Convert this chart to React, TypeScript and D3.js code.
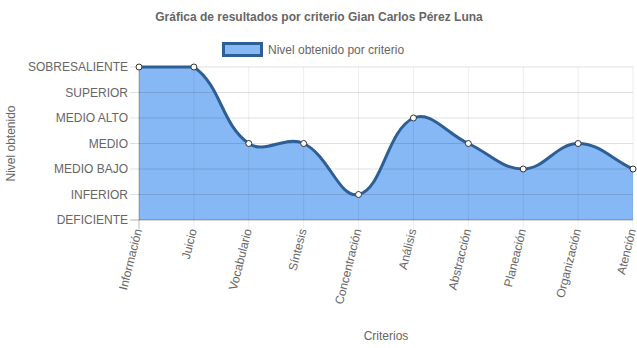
import React from "react";
import * as d3 from "d3";

const categories = ["Información", "Juicio", "Vocabulario", "Síntesis", "Concentración", "Análisis", "Abstracción", "Planeación", "Organización", "Atención"];
const levels = ["DEFICIENTE", "INFERIOR", "MEDIO BAJO", "MEDIO", "MEDIO ALTO", "SUPERIOR", "SOBRESALIENTE"];
const values = [6, 6, 3, 3, 1, 4, 3, 2, 3, 2];

const W = 637, H = 348;
const left = 139, right = 633, top = 67, bottom = 220;
const FONT = "Liberation Sans, Arial, Helvetica, sans-serif";
const GREY = "#666";

function chartSpline(pts: [number, number][], tension: number, minY: number, maxY: number, minX: number, maxX: number) {
  const n = pts.length;
  const cps: { p: [number, number]; n: [number, number] }[] = [];
  for (let i = 0; i < n; i++) {
    const prev = pts[Math.max(0, i - 1)];
    const cur = pts[i];
    const next = pts[Math.min(n - 1, i + 1)];
    const d01 = Math.hypot(cur[0] - prev[0], cur[1] - prev[1]);
    const d12 = Math.hypot(next[0] - cur[0], next[1] - cur[1]);
    let s01 = d01 / (d01 + d12);
    let s12 = d12 / (d01 + d12);
    if (isNaN(s01)) s01 = 0;
    if (isNaN(s12)) s12 = 0;
    const fa = tension * s01, fb = tension * s12;
    const cap = (v: number, a: number, b: number) => Math.max(a, Math.min(b, v));
    cps.push({
      p: [cap(cur[0] - fa * (next[0] - prev[0]), minX, maxX), cap(cur[1] - fa * (next[1] - prev[1]), minY, maxY)],
      n: [cap(cur[0] + fb * (next[0] - prev[0]), minX, maxX), cap(cur[1] + fb * (next[1] - prev[1]), minY, maxY)],
    });
  }
  const path = d3.path();
  path.moveTo(pts[0][0], pts[0][1]);
  for (let i = 1; i < n; i++) {
    path.bezierCurveTo(cps[i - 1].n[0], cps[i - 1].n[1], cps[i].p[0], cps[i].p[1], pts[i][0], pts[i][1]);
  }
  return path.toString();
}

export default function App() {
  const x = d3.scalePoint<string>().domain(categories).range([left, right]);
  const y = d3.scaleLinear().domain([0, levels.length - 1]).range([bottom, top]);
  const pts: [number, number][] = values.map((v, i) => [x(categories[i])!, y(v)]);
  const line = chartSpline(pts, 0.4, top, bottom, left, right);
  const area = line + `L${pts[pts.length - 1][0]},${bottom}L${pts[0][0]},${bottom}Z`;

  return (
    <svg width={W} height={H} style={{ position: "absolute", left: 0, top: 0, fontFamily: FONT }}>
      <rect width={W} height={H} fill="#fff" />
      <text x={319} y={21} textAnchor="middle" fontSize={12} fontWeight="bold" fill={GREY}>
        Gráfica de resultados por criterio Gian Carlos Pérez Luna
      </text>
      {/* legend */}
      <rect x={223.5} y={43.5} width={38} height={12} fill="#86b8f5" stroke="#2e5f94" strokeWidth={3} />
      <text x={268} y={54} fontSize={12} fill={GREY}>Nivel obtenido por criterio</text>

      {/* area & line */}
      <path d={area} fill="#86b8f5" />
      {/* grid */}
      {levels.map((l, i) => (
        <line key={l} x1={left - 9} x2={right} y1={y(i)} y2={y(i)} stroke="rgba(0,0,0,0.12)" strokeWidth={1} />
      ))}
      {categories.map((c) => (
        <line key={c} x1={x(c)!} x2={x(c)!} y1={top} y2={bottom + 9} stroke="rgba(0,0,0,0.07)" strokeWidth={1} />
      ))}
      <line x1={left} x2={left} y1={top} y2={bottom + 9} stroke="rgba(0,0,0,0.2)" />
      <line x1={left - 9} x2={right} y1={bottom} y2={bottom} stroke="rgba(0,0,0,0.2)" />
      <path d={line} fill="none" stroke="#2e5f94" strokeWidth={3} />
      {pts.map((p, i) => (
        <circle key={i} cx={p[0]} cy={p[1]} r={3} fill="#fff" stroke="#333" strokeWidth={1} />
      ))}

      {/* y labels */}
      {levels.map((l, i) => (
        <text key={l} x={left - 11} y={y(i)} dy="0.35em" textAnchor="end" fontSize={12} fill={GREY}>
          {l}
        </text>
      ))}
      {/* x labels */}
      {categories.map((c) => (
        <text key={c} transform={`translate(${x(c)! + 3},${bottom + 10}) rotate(-76)`} textAnchor="end" fontSize={12} fill={GREY}>
          {c}
        </text>
      ))}
      <text transform={`translate(15,${(top + bottom) / 2}) rotate(-90)`} textAnchor="middle" fontSize={12} fill={GREY}>
        Nivel obtenido
      </text>
      <text x={386} y={340} textAnchor="middle" fontSize={12} fill={GREY}>Criterios</text>
    </svg>
  );
}
